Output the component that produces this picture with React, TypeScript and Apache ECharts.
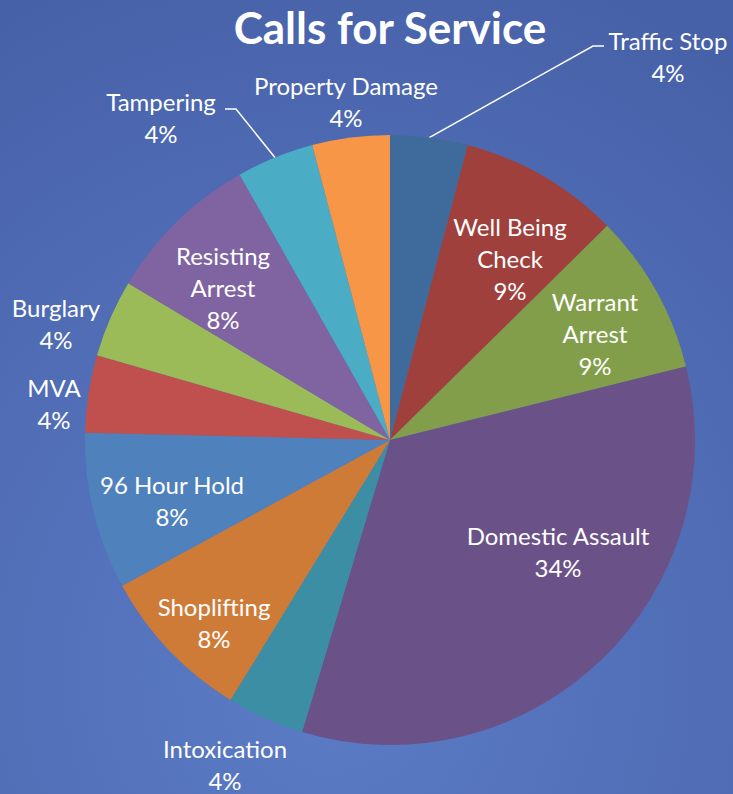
import React, { useEffect, useRef } from 'react';
import * as echarts from 'echarts';

const titleText = 'Calls for Service';

const categories = [
  'Traffic Stop',
  'Well Being Check',
  'Warrant Arrest',
  'Domestic Assault',
  'Intoxication',
  'Shoplifting',
  '96 Hour Hold',
  'MVA',
  'Burglary',
  'Resisting Arrest',
  'Tampering',
  'Property Damage',
];

const values = [4.1, 8.5, 8.5, 33.5, 4.1, 8.3, 8.3, 4.1, 4.1, 8.2, 4.1, 4.1];

const sliceColors = [
  '#3f6a9c',
  '#a0403d',
  '#839e4b',
  '#6a5288',
  '#3b8ea3',
  '#cf7b38',
  '#4f81bd',
  '#c0504d',
  '#9bbb59',
  '#8064a2',
  '#4bacc6',
  '#f79646',
];

const wrappedNames: Record<string, string> = {
  'Well Being Check': 'Well Being\nCheck',
  'Warrant Arrest': 'Warrant\nArrest',
  'Resisting Arrest': 'Resisting\nArrest',
};

// layout: pie centre / radius and label block centres (offset from the pie centre)
const CX = 390;
const CY = 440;
const R = 305;
const labelOffsets: [number, number][] = [
  [278, -384],
  [120, -182],
  [205, -107],
  [168, 111],
  [-165, 324],
  [-176, 182],
  [-218, 60],
  [-336, -37],
  [-334, -117],
  [-167, -153],
  [-229, -323],
  [-44, -339],
];
// leader line elbows (offsets from pie centre) for the slices that have one
const leaderElbows: Record<number, [number, number][]> = {
  0: [[203, -394], [214, -394]],
  10: [[-154, -331], [-165, -331]],
};

function rimPoint(i: number): [number, number] {
  const total = values.reduce((a, b) => a + b, 0);
  let before = 0;
  for (let k = 0; k < i; k++) before += values[k];
  const mid = ((before + values[i] / 2) / total) * Math.PI * 2;
  return [CX + R * Math.sin(mid), CY - R * Math.cos(mid)];
}

export default function App() {
  const ref = useRef<HTMLDivElement>(null);

  useEffect(() => {
    document.body.style.margin = '0';
    if (!ref.current) return;
    const chart = echarts.init(ref.current, undefined, { renderer: 'svg' });
    const data = categories.map((name, i) => ({
      name,
      value: values[i],
      itemStyle: { color: sliceColors[i] },
      labelLine: { show: leaderElbows[i] !== undefined },
    }));
    chart.setOption({
      animation: false,
      backgroundColor: {
        type: 'radial',
        x: 0.45,
        y: 0.85,
        r: 0.95,
        colorStops: [
          { offset: 0, color: '#5b7cc6' },
          { offset: 1, color: '#4761a8' },
        ],
      },
      graphic: [
        {
          type: 'text',
          x: CX,
          y: 27,
          style: {
            text: titleText,
            fill: '#ffffff',
            font: 'bold 44px Lato',
            textAlign: 'center',
            textVerticalAlign: 'middle',
          },
        },
      ],
      series: [
        {
          type: 'pie',
          center: [CX, CY],
          radius: R,
          startAngle: 90,
          clockwise: true,
          avoidLabelOverlap: false,
          data,
          itemStyle: { borderWidth: 0 },
          label: {
            show: true,
            position: 'outside',
            color: '#ffffff',
            fontFamily: 'Lato',
            fontSize: 24,
            lineHeight: 32,
            align: 'center',
            formatter: (p: any) =>
              `${wrappedNames[p.name] ?? p.name}\n${Math.round(p.percent)}%`,
          },
          labelLine: {
            show: false,
            lineStyle: { color: '#ffffff', width: 1.5 },
          },
          labelLayout: (p: any) => {
            const i = p.dataIndex;
            const [ox, oy] = labelOffsets[i];
            const res: any = {
              x: CX + ox,
              y: CY + oy,
              align: 'center',
              verticalAlign: 'middle',
            };
            if (leaderElbows[i]) {
              res.labelLinePoints = [
                rimPoint(i),
                ...leaderElbows[i].map(([dx, dy]) => [CX + dx, CY + dy]),
              ];
            }
            return res;
          },
        },
      ],
    });
    return () => chart.dispose();
  }, []);

  return <div ref={ref} style={{ width: 733, height: 794 }} />;
}
